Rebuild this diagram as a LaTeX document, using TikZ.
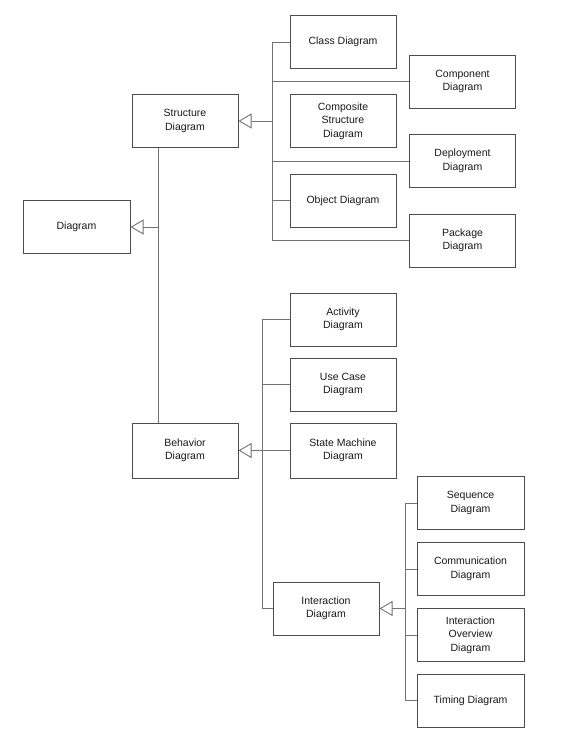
\documentclass[tikz,border=0pt]{standalone}
\usepackage{fontspec}
\setmainfont{Liberation Sans}
\usetikzlibrary{arrows.meta}
\begin{document}
\begin{tikzpicture}[x=1pt,y=-1pt,
  box/.style={draw=black!70, line width=1pt, fill=white, rectangle, minimum width=106pt, minimum height=53pt, inner sep=2pt, align=center, font=\fontsize{10.5}{13.5}\selectfont, text=black!90},
  conn/.style={draw=black!55, line width=0.9pt},
  gen/.style={conn, -{Triangle[open, length=13pt, width=15pt, fill=white]}}]
\useasboundingbox (0,0) rectangle (565,745);
% structure branch
\node[box] (Class) at (343,42) {Class Diagram};
\node[box] (Component) at (462.5,81.5) {Component\\Diagram};
\node[box] (Structure) at (185,121) {Structure\\Diagram};
\node[box] (Composite) at (343,121) {Composite\\Structure\\Diagram};
\node[box] (Deployment) at (462.5,161) {Deployment\\Diagram};
\node[box] (Object) at (343,200.5) {Object Diagram};
\node[box] (Package) at (462.5,240.5) {Package\\Diagram};
\node[box, minimum width=107pt] (Diagram) at (76.5,227) {Diagram};
% behavior branch
\node[box] (Activity) at (343,319.5) {Activity\\Diagram};
\node[box] (UseCase) at (343,384.5) {Use Case\\Diagram};
\node[box, minimum height=55pt] (Behavior) at (185,450.5) {Behavior\\Diagram};
\node[box, minimum height=55pt] (StateMachine) at (343,450.5) {State Machine\\Diagram};
\node[box] (Interaction) at (326,608.5) {Interaction\\Diagram};
\node[box, minimum width=107pt] (Sequence) at (470.5,503) {Sequence\\Diagram};
\node[box, minimum width=107pt] (Communication) at (470.5,569) {Communication\\Diagram};
\node[box, minimum width=107pt] (Overview) at (470.5,635) {Interaction\\Overview\\Diagram};
\node[box, minimum width=107pt] (Timing) at (470.5,700.5) {Timing Diagram};
% trunks
\coordinate (sT) at (272,0);
\coordinate (dT) at (158,0);
\coordinate (bT) at (262,0);
\coordinate (iT) at (405,0);
\draw[conn] (Class.west) -- (Class.west -| sT) |- (Package.west);
\draw[conn] (Component.west) -- (Component.west -| sT);
\draw[conn] (Deployment.west) -- (Deployment.west -| sT);
\draw[conn] (Object.west) -- (Object.west -| sT);
\draw[gen] (Structure.east -| sT) -- (Structure.east);
\draw[conn] (Structure.south -| dT) -- (Behavior.north -| dT);
\draw[gen] (Diagram.east -| dT) -- (Diagram.east);
\draw[conn] (Activity.west) -- (Activity.west -| bT) |- (Interaction.west);
\draw[conn] (UseCase.west) -- (UseCase.west -| bT);
\draw[gen] (StateMachine.west) -- (Behavior.east);
\draw[conn] (Sequence.west) -- (Sequence.west -| iT) |- (Timing.west);
\draw[conn] (Communication.west) -- (Communication.west -| iT);
\draw[conn] (Overview.west) -- (Overview.west -| iT);
\draw[gen] (Interaction.east -| iT) -- (Interaction.east);
\end{tikzpicture}
\end{document}
